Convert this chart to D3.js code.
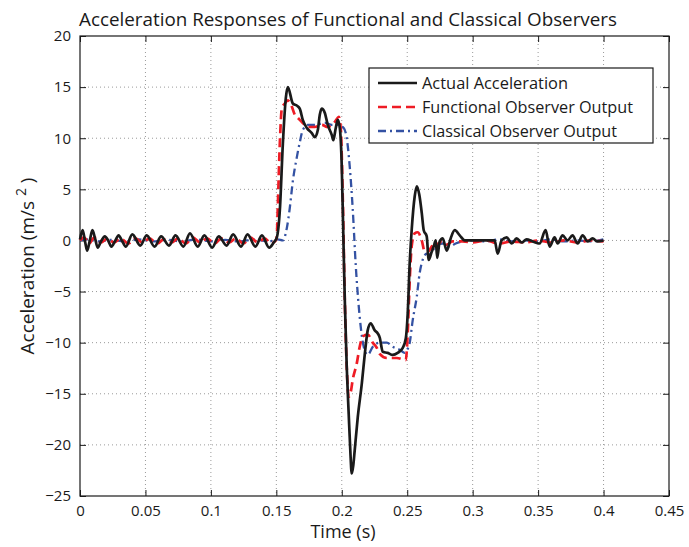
<!DOCTYPE html>
<html><head><meta charset="utf-8">
<script src="https://cdn.jsdelivr.net/npm/d3@7"></script>
<style>body{margin:0;background:#fff}svg{display:block}text{font-family:"Open Sans","Noto Sans",sans-serif;fill:#1a1a1a}</style>
</head><body><svg id="c" width="689" height="547"></svg>
<script>
const xTicks=[0,0.05,0.1,0.15,0.2,0.25,0.3,0.35,0.4,0.45];
const yTicks=[-25,-20,-15,-10,-5,0,5,10,15,20];
const seriesNames=["Actual Acceleration","Functional Observer Output","Classical Observer Output"];

const actualT=[0,0.002,0.004,0.0055,0.0075,0.0095,0.0115,0.0135,0.016,0.019,0.0215,0.024,0.027,0.0295,0.032,0.035,0.040,0.046,0.051,0.057,0.062,0.068,0.073,0.079,0.084,0.090,0.095,0.101,0.106,0.112,0.117,0.123,0.128,0.134,0.139,0.1445,0.148,0.1504,0.1527,0.155,0.1573,0.1588,0.1626,0.1656,0.1679,0.1702,0.1733,0.1771,0.1794,0.1817,0.1832,0.1847,0.1870,0.1893,0.1924,0.1935,0.1954,0.1969,0.1985,0.2000,0.2011,0.2023,0.2038,0.2053,0.2065,0.2076,0.2088,0.2099,0.2122,0.2153,0.2176,0.2198,0.2221,0.2252,0.2275,0.2290,0.2313,0.2351,0.2389,0.2427,0.2466,0.2489,0.2504,0.2519,0.2534,0.2557,0.2573,0.2592,0.2611,0.2626,0.2649,0.2664,0.2687,0.2702,0.2718,0.2729,0.2748,0.2771,0.2802,0.2832,0.2863,0.2901,0.2939,0.3130,0.3168,0.3191,0.3221,0.3260,0.3298,0.3336,0.3374,0.3412,0.3458,0.3511,0.3557,0.3588,0.3626,0.3649,0.3687,0.3725,0.3763,0.3802,0.3840,0.3878,0.3916,0.3954,0.4];
const actualV=[0.1,1.0,-0.2,-1.0,0,1.0,0.2,-0.7,-0.1,0.4,0,-0.6,0,0.5,0,-0.6,0.6,-0.5,0.5,-0.6,0.4,-0.5,0.5,-0.6,0.7,-0.6,0.5,-0.7,0.4,-0.5,0.6,-0.6,0.6,-0.6,0.5,-0.7,-0.2,0.3,3.0,9.5,14.0,15.0,13.4,13.2,12.9,11.8,11.0,10.5,10.1,10.8,12.3,12.9,12.5,11.3,10.3,9.8,11.0,11.8,11.0,7.2,1.0,-5.8,-12.4,-17.0,-20.5,-22.8,-22.0,-20.5,-17.3,-14.0,-11.1,-8.8,-8.1,-8.8,-9.1,-9.5,-10.9,-11.0,-11.2,-11.0,-10.5,-9.6,-7.1,-2.2,1.0,4.3,5.3,4.5,2.7,1.0,0.4,-1.9,-1.1,-0.6,0.0,-1.7,-0.1,0.2,-1.0,0.2,1.0,0.5,0,0,0,-1.3,0,0.3,-0.3,0.2,-0.2,0.1,-0.1,-0.3,1.0,-0.6,0.3,-0.3,0.5,0,0.5,-0.3,0.5,-0.1,0.2,-0.1,0];

const functionalT=[0,0.003,0.007,0.011,0.016,0.021,0.026,0.031,0.037,0.042,0.048,0.053,0.059,0.064,0.070,0.075,0.081,0.086,0.092,0.097,0.103,0.108,0.114,0.119,0.125,0.130,0.136,0.141,0.146,0.1496,0.1504,0.1511,0.1527,0.1542,0.1565,0.1588,0.1618,0.1641,0.1664,0.1702,0.1740,0.1794,0.1847,0.1893,0.1947,0.1977,0.1992,0.2008,0.2023,0.2038,0.2053,0.2069,0.2084,0.2115,0.2137,0.2160,0.2198,0.2237,0.2267,0.2290,0.2344,0.2420,0.2489,0.2504,0.2519,0.2534,0.2557,0.2580,0.2611,0.2634,0.2656,0.2687,0.2710,0.2733,0.2763,0.2802,0.2847,0.2924,0.30,0.31,0.32,0.33,0.34,0.35,0.36,0.37,0.38,0.39,0.4];
const functionalV=[0,0.3,-0.3,0.3,-0.2,0.2,-0.2,0.2,-0.3,0.2,-0.2,0.2,-0.3,0.1,-0.2,0.2,-0.3,0.3,-0.2,0.2,-0.3,0.2,-0.2,0.2,-0.3,0.3,-0.2,0.2,-0.3,0,0.5,3.2,9.6,12.9,13.4,13.7,13.1,12.3,12.0,11.5,11.1,11.1,11.3,11.1,11.6,12.1,11.0,3.9,-5.8,-12.4,-15.3,-14.8,-13.6,-12.0,-10.4,-9.4,-9.2,-10.0,-10.5,-11.1,-11.5,-11.5,-11.7,-9.0,-3.9,-0.6,0.7,0.8,0,-1.1,-1.1,-0.6,-0.1,-0.4,-0.1,-0.4,-0.1,-0.1,-0.2,0,-0.3,-0.1,-0.2,0,-0.2,0,-0.2,0,-0.1];

const classicalT=[0,0.006,0.014,0.024,0.034,0.045,0.056,0.067,0.078,0.089,0.100,0.111,0.122,0.133,0.144,0.1511,0.1550,0.1580,0.1603,0.1626,0.1656,0.1679,0.1702,0.1740,0.1794,0.1870,0.1924,0.1969,0.2015,0.2038,0.2061,0.2084,0.2107,0.2130,0.2153,0.2176,0.2198,0.2237,0.2290,0.2344,0.2389,0.2443,0.2481,0.2504,0.2519,0.2542,0.2573,0.2595,0.2618,0.2649,0.2672,0.2695,0.2725,0.2771,0.2824,0.2870,0.2924,0.30,0.31,0.32,0.33,0.34,0.35,0.36,0.37,0.38,0.39,0.4];
const classicalV=[0,0.1,-0.1,0.05,-0.1,0.1,-0.1,0.05,-0.1,0.1,-0.1,0.05,-0.1,0.1,-0.1,0.1,0,1.2,3.2,5.8,8.1,9.6,10.8,11.3,11.3,11.5,11.3,11.3,11.0,10.0,7.2,3.0,-2.5,-6.5,-9.3,-10.8,-11.2,-10.4,-10.0,-10.0,-10.4,-10.7,-11.0,-10.6,-10.0,-7.8,-5.5,-3.2,-1.9,-1.3,-1.4,-1.0,-0.4,-0.3,-0.6,-0.3,-0.1,0,-0.1,0.1,-0.1,0,-0.1,0.1,-0.1,0,-0.1,0.1];

const svg=d3.select("#c");
const L=80,R=669,T=36,B=496;
const x=d3.scaleLinear().domain([0,0.45]).range([L,R]);
const y=d3.scaleLinear().domain([-25,20]).range([B,T]);

// grid
const g=svg.append("g");
g.selectAll(".gx").data(xTicks.slice(1,-1)).enter().append("line")
 .attr("x1",d=>x(d)).attr("x2",d=>x(d)).attr("y1",T).attr("y2",B)
 .attr("stroke","#9a9a9a").attr("stroke-width",1).attr("stroke-dasharray","1,3");
g.selectAll(".gy").data(yTicks.slice(1,-1)).enter().append("line")
 .attr("y1",d=>y(d)).attr("y2",d=>y(d)).attr("x1",L).attr("x2",R)
 .attr("stroke","#9a9a9a").attr("stroke-width",1).attr("stroke-dasharray","1,3");

// axes
const ax=svg.append("g").attr("transform",`translate(0,${B})`)
 .call(d3.axisBottom(x).tickValues(xTicks).tickFormat(d=>d===0?"0":String(+d.toFixed(2))).tickSizeInner(-6).tickSizeOuter(0).tickPadding(12));
const ay=svg.append("g").attr("transform",`translate(${L},0)`)
 .call(d3.axisLeft(y).tickValues(yTicks).tickFormat(d=>d<0?"\u2212"+Math.abs(d):String(d)).tickSizeInner(-6).tickSizeOuter(0).tickPadding(9));
const axT=svg.append("g").attr("transform",`translate(0,${T})`)
 .call(d3.axisTop(x).tickValues(xTicks).tickFormat("").tickSizeInner(-6).tickSizeOuter(0));
const ayR=svg.append("g").attr("transform",`translate(${R},0)`)
 .call(d3.axisRight(y).tickValues(yTicks).tickFormat("").tickSizeInner(-6).tickSizeOuter(0));
[ax,ay,axT,ayR].forEach(a=>{a.select(".domain").remove();a.selectAll("line").attr("stroke","#1a1a1a");
 a.selectAll("text").style("font-size","15px").attr("fill","#1a1a1a");});
ax.selectAll("text").attr("dy","0.55em");
svg.append("rect").attr("x",L).attr("y",T).attr("width",R-L).attr("height",B-T)
 .attr("fill","none").attr("stroke","#1a1a1a").attr("stroke-width",1.2);

// lines
const line=d3.line().x(d=>x(d[0])).y(d=>y(d[1])).curve(d3.curveMonotoneX);
const zip=(a,b)=>a.map((t,i)=>[t,b[i]]);
const styles=[{c:"#1a1a1a",w:2.7,da:null},{c:"#ee1c25",w:2.7,da:"9,5"},{c:"#3452a3",w:2.3,da:"8,4,2,4"}];
const series=[zip(actualT,actualV),zip(functionalT,functionalV),zip(classicalT,classicalV)];
[2,1,0].forEach(i=>{
 svg.append("path").datum(series[i]).attr("d",line).attr("fill","none")
  .attr("stroke",styles[i].c).attr("stroke-width",styles[i].w)
  .attr("stroke-dasharray",styles[i].da).attr("stroke-linejoin","round");
});

// legend
const lg=svg.append("g");
lg.append("rect").attr("x",369).attr("y",68).attr("width",284).attr("height",75)
 .attr("fill","#fff").attr("stroke","#1a1a1a").attr("stroke-width",1.2);
const legendW=[146,211,195];
seriesNames.forEach((n,i)=>{
 const yy=83+i*24;
 lg.append("line").attr("x1",378).attr("x2",417).attr("y1",yy).attr("y2",yy)
  .attr("stroke",styles[i].c).attr("stroke-width",styles[i].w).attr("stroke-dasharray",styles[i].da);
 lg.append("text").attr("x",422).attr("y",yy).attr("dy","0.36em").style("font-size","16px")
  .attr("textLength",legendW[i]).attr("lengthAdjust","spacingAndGlyphs").text(n);
});

// titles
svg.append("text").attr("x",348).attr("y",26).attr("text-anchor","middle").style("font-size","18px")
 .attr("textLength",538).attr("lengthAdjust","spacingAndGlyphs")
 .text("Acceleration Responses of Functional and Classical Observers");
svg.append("text").attr("x",343).attr("y",538).attr("text-anchor","middle").style("font-size","18px").text("Time (s)");
const yl=svg.append("text").attr("transform","translate(34,266) rotate(-90)").attr("text-anchor","middle").style("font-size","19px");
yl.append("tspan").text("Acceleration (m/s  ");
yl.append("tspan").attr("dy","-8").style("font-size","14px").text("2");
yl.append("tspan").attr("dy","8").text(" )");
</script></body></html>
